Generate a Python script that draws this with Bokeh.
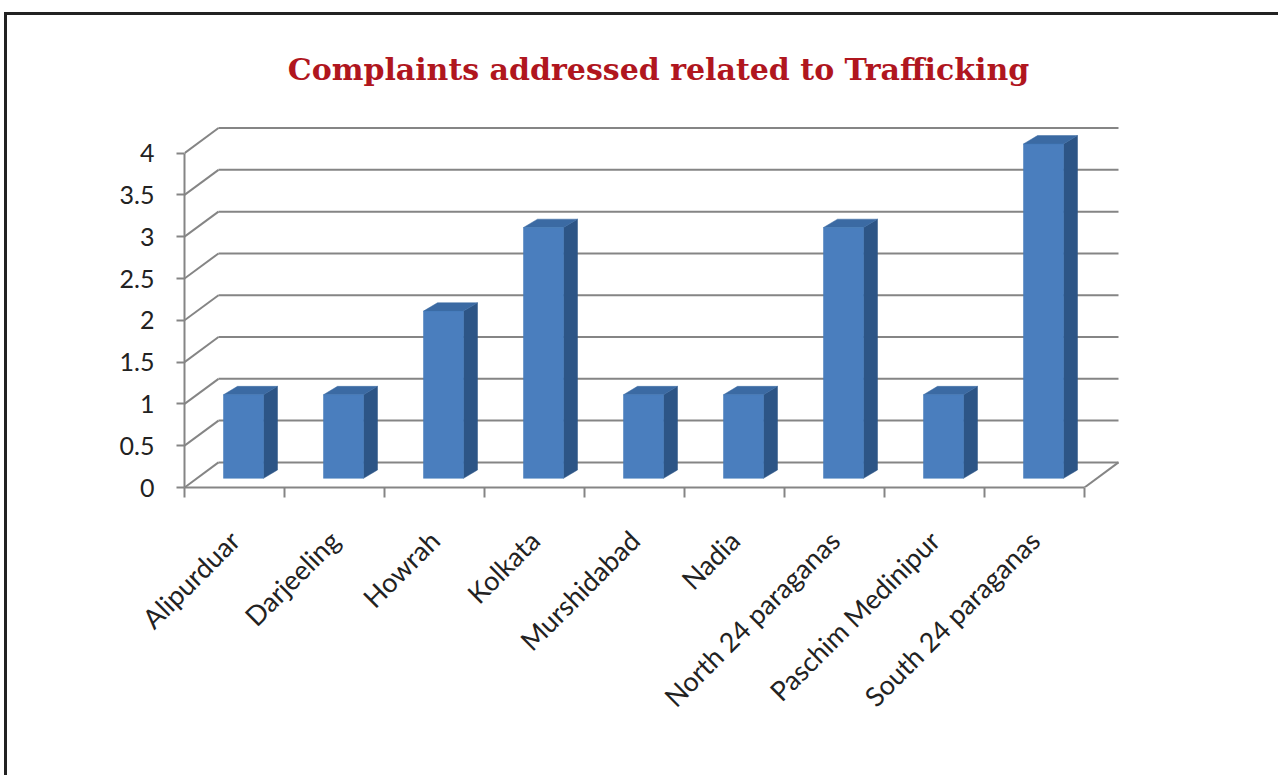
import numpy as np
from bokeh.plotting import figure
from bokeh.models import (FixedTicker, NumeralTickFormatter, CustomJSTickFormatter,
                          Range1d, InlineStyleSheet)
from bokeh.embed import file_html
from bokeh.resources import INLINE

# ---- data ----
districts = ["Alipurduar", "Darjeeling", "Howrah", "Kolkata", "Murshidabad", "Nadia",
             "North 24 paraganas", "Paschim Medinipur", "South 24 paraganas"]
complaints = [1, 1, 2, 3, 1, 1, 3, 1, 4]
y_ticks = [0, 0.5, 1, 1.5, 2, 2.5, 3, 3.5, 4]
title_text = "Complaints addressed related to Trafficking"

# ---- 3D styling constants (in data units) ----
DX, DY = 0.34, 0.30          # depth of back wall
BAR_L, BAR_W = 0.39, 0.40    # bar front face offset / width within category
BAR_DX, BAR_DY = 0.14, 0.10  # bar depth
BAR_Y0 = 0.11                # bar floor level
n = len(districts)

W, H = 1278, 775
p = figure(width=W, height=H, output_backend="svg", toolbar_location=None,
           x_range=Range1d(0, 9.48), y_range=Range1d(0, 4.45),
           min_border_left=184, min_border_right=146, min_border_top=115,
           min_border_bottom=288)
p.background_fill_color = "white"
p.border_fill_color = "white"
p.outline_line_color = None
p.xgrid.visible = False
p.ygrid.visible = False

# outer frame of the picture (left and top edges visible)
p.stylesheets = [InlineStyleSheet(css="""
:host::after {
  content: "";
  position: absolute;
  left: 4px; top: 12px; right: 0px; bottom: 0px;
  border-left: 3px solid #222222;
  border-top: 3px solid #222222;
  pointer-events: none;
  z-index: 10;
}
""")]

# title
p.title.text = title_text
p.title.align = "center"
p.title.text_font = "DejaVu Serif"
p.title.text_font_style = "bold"
p.title.text_font_size = "30px"
p.title.text_color = "#B0161E"
p.title.standoff = 57

GRID = "#858585"

# back wall gridlines
wall_y = [t + DY for t in y_ticks]
p.segment(x0=[DX] * len(y_ticks), y0=wall_y, x1=[n + DX] * len(y_ticks), y1=wall_y,
          line_color=GRID, line_width=2)
# side wall diagonals
p.segment(x0=[0] * len(y_ticks), y0=y_ticks, x1=[DX] * len(y_ticks), y1=wall_y,
          line_color=GRID, line_width=2)
# floor right edge
p.segment(x0=[n], y0=[0], x1=[n + DX], y1=[DY], line_color=GRID, line_width=2)

# bars
fx, fy, sx, sy, tx, ty = [], [], [], [], [], []
for i, v in enumerate(complaints):
    x0 = i + BAR_L
    x1 = x0 + BAR_W
    y0 = BAR_Y0
    y1 = v + BAR_Y0
    fx.append([x0, x1, x1, x0]); fy.append([y0, y0, y1, y1])
    sx.append([x1, x1 + BAR_DX, x1 + BAR_DX, x1]); sy.append([y0, y0 + BAR_DY, y1 + BAR_DY, y1])
    tx.append([x0, x1, x1 + BAR_DX, x0 + BAR_DX]); ty.append([y1, y1, y1 + BAR_DY, y1 + BAR_DY])
p.patches(sx, sy, fill_color="#2d5586", line_color="#2d5586", line_width=0.5)
p.patches(tx, ty, fill_color="#3b6aa3", line_color="#3b6aa3", line_width=0.5)
p.patches(fx, fy, fill_color="#4a7ebe", line_color="#4178b8", line_width=0.5)

# y axis
ya = p.yaxis[0]
ya.ticker = FixedTicker(ticks=y_ticks)
ya.formatter = NumeralTickFormatter(format="0.[0]")
ya.bounds = (0, 4)
ya.axis_line_color = GRID
ya.axis_line_width = 2
ya.major_tick_line_color = GRID
ya.major_tick_line_width = 2
ya.major_tick_in = 0
ya.major_tick_out = 8
ya.minor_tick_line_color = None
ya.major_label_text_font = "Lato"
ya.major_label_text_font_size = "25px"
ya.major_label_text_color = "#222222"
ya.major_label_standoff = 22

# x axis
xa = p.xaxis[0]
centers = [i + 0.5 for i in range(n)]
bounds = list(range(n + 1))
xa.ticker = FixedTicker(ticks=centers, minor_ticks=bounds)
xa.formatter = CustomJSTickFormatter(args=dict(names=districts), code="""
const i = Math.round(tick - 0.5);
return (i >= 0 && i < names.length) ? names[i] : '';
""")
xa.bounds = (0, n)
xa.axis_line_color = GRID
xa.axis_line_width = 2
xa.major_tick_line_color = None
xa.minor_tick_line_color = GRID
xa.minor_tick_line_width = 2
xa.minor_tick_in = 0
xa.minor_tick_out = 10
xa.major_label_orientation = np.pi / 4
xa.major_label_text_font = "Lato"
xa.major_label_text_font_size = "27px"
xa.major_label_text_color = "#222222"
xa.major_label_standoff = 38

open("out.html", "w").write(file_html(p, INLINE))
